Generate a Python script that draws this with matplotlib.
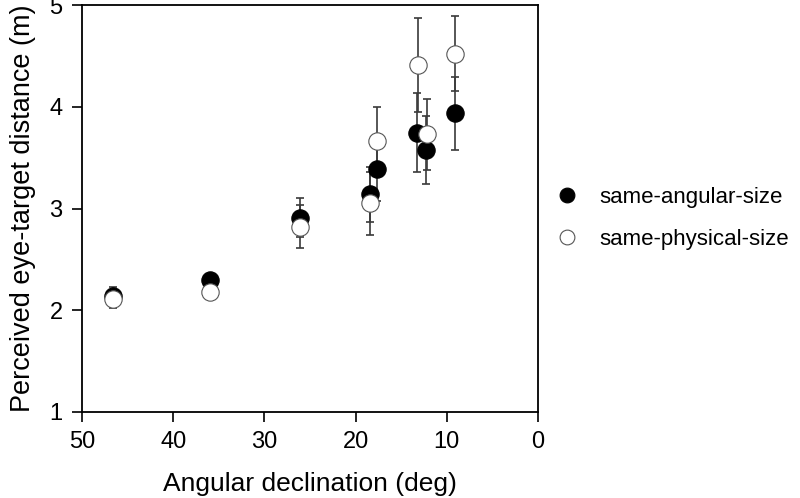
import matplotlib
matplotlib.use("Agg")
import matplotlib.pyplot as plt

plt.rcParams['font.family'] = ['Liberation Sans', 'DejaVu Sans']

# Data
angle_angular = [46.6, 36.0, 26.1, 18.4, 17.6, 13.3, 12.25, 9.1]
dist_angular = [2.14, 2.30, 2.91, 3.14, 3.385, 3.745, 3.575, 3.935]
err_angular = [0.09, 0.05, 0.19, 0.27, 0.31, 0.39, 0.33, 0.36]

angle_physical = [46.6, 36.0, 26.1, 18.4, 17.6, 13.2, 12.2, 9.1]
dist_physical = [2.11, 2.18, 2.82, 3.05, 3.667, 4.41, 3.73, 4.52]
err_physical = [0.09, 0.05, 0.21, 0.31, 0.33, 0.46, 0.35, 0.37]

labels = ['same-angular-size', 'same-physical-size']
xticks = [50, 40, 30, 20, 10, 0]
yticks = [1, 2, 3, 4, 5]

fig = plt.figure(figsize=(8.0, 4.98), dpi=100)
ax = fig.add_axes([82/800, 1-412/498, (538-82)/800, (412-5)/498])

ax.errorbar(angle_angular, dist_angular, yerr=err_angular, fmt='none',
            ecolor='#3a3a3a', elinewidth=1.2, capsize=3, capthick=1.2, zorder=1)
ax.errorbar(angle_physical, dist_physical, yerr=err_physical, fmt='none',
            ecolor='#3a3a3a', elinewidth=1.2, capsize=3, capthick=1.2, zorder=1)
ax.plot(angle_angular, dist_angular, 'o', color='black', markersize=12.5,
        markeredgecolor='black', markeredgewidth=0.8, label=labels[0], zorder=3, linestyle='none')
ax.plot(angle_physical, dist_physical, 'o', color='white', markersize=12.5,
        markeredgecolor='#555555', markeredgewidth=0.8, label=labels[1], zorder=4, linestyle='none')

ax.set_xlim(50, 0)
ax.set_ylim(1, 5)
ax.set_xticks(xticks)
ax.set_yticks(yticks)
ax.tick_params(direction='out', length=7, width=1.2, labelsize=17, pad=7,
               top=False, right=False)
for s in ax.spines.values():
    s.set_linewidth(1.3)
    s.set_color('black')

ax.set_xlabel('Angular declination (deg)', fontsize=19, labelpad=13)
ax.set_ylabel('Perceived eye-target distance (m)', fontsize=19.5, labelpad=10)

ax.legend(loc='center left', bbox_to_anchor=(0.995, 0.475), frameon=False,
          fontsize=16, markerscale=0.85, handletextpad=0.75, labelspacing=0.95,
          borderaxespad=0.3, handlelength=1.4)

fig.savefig('out.png', dpi=100)
